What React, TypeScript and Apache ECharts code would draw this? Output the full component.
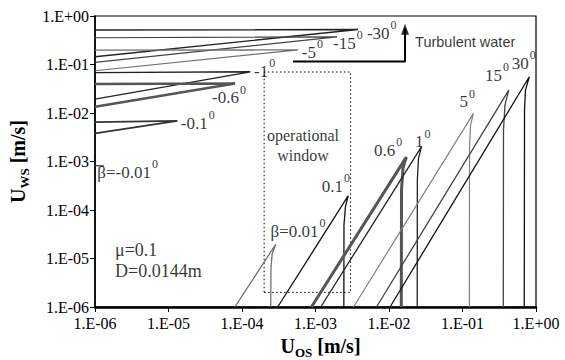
import React, { useEffect, useRef } from "react";
import * as echarts from "echarts";

// Tick labels (decades 1e-6 .. 1e0)
const xTickLabels = ["1.E-06", "1.E-05", "1.E-04", "1.E-03", "1.E-02", "1.E-01", "1.E+00"];
const yTickLabels = ["1.E-06", "1.E-05", "1.E-04", "1.E-03", "1.E-02", "1.E-01", "1.E+00"];

// Positive inclination angles: rising branch, peak, falling branch [U_OS, U_WS]
const betaP001: number[][] = [[8.0e-5, 1e-6], [2.88e-4, 1.97e-5], [2.58e-4, 1.27e-5], [2.48e-4, 6.7e-6], [2.46e-4, 1e-6]];
const betaP01: number[][] = [[3.06e-4, 1e-6], [2.79e-3, 1.97e-4], [2.56e-3, 1.2e-4], [2.44e-3, 4.9e-5], [2.43e-3, 1e-6]];
const betaP06: number[][] = [[8.8e-4, 1e-6], [1.72e-2, 1.23e-3], [1.55e-2, 7.3e-4], [1.48e-2, 2.6e-4], [1.47e-2, 1e-6]];
const betaP1: number[][] = [[1.18e-3, 1e-6], [2.77e-2, 2.03e-3], [2.52e-2, 1.17e-3], [2.43e-2, 4.1e-4], [2.42e-2, 1e-6]];
const betaP5: number[][] = [[3.29e-3, 1e-6], [0.141, 9.8e-3], [0.1285, 5.6e-3], [0.1245, 1.71e-3], [0.124, 1e-6]];
const betaP15: number[][] = [[6.76e-3, 1e-6], [0.426, 0.0297], [0.378, 0.01455], [0.361, 4.43e-3], [0.359, 1e-6]];
const betaP30: number[][] = [[0.01033, 1e-6], [0.811, 0.0559], [0.719, 0.0297], [0.698, 0.01148], [0.692, 1e-6]];

// Negative inclination angles: upper branch, tip, lower branch [U_OS, U_WS]
const betaN30: number[][] = [[1e-6, 0.514], [3.79e-3, 0.526], [1e-6, 0.1445]];
const betaN15: number[][] = [[8.0e-7, 0.356], [1.96e-3, 0.37], [1e-6, 0.1107]];
const betaN5: number[][] = [[1e-6, 0.1987], [5.8e-4, 0.2], [1e-6, 0.0743]];
const betaN1: number[][] = [[1e-6, 0.068], [1.3e-4, 0.0708], [1e-6, 0.01936]];
const betaN06: number[][] = [[1e-6, 0.0395], [8.04e-5, 0.0405], [1e-6, 0.01343]];
const betaN01: number[][] = [[1e-6, 6.49e-3], [1.32e-5, 6.9e-3], [1e-6, 3.79e-3]];
const betaN001: number[][] = [[9.3e-7, 8.28e-4], [1.32e-6, 8.1e-4]];

// Operational window and turbulent-water arrow
const windowBox: number[][] = [[2e-4, 2e-6], [3e-3, 2e-6], [3e-3, 0.07], [2e-4, 0.07], [2e-4, 2e-6]];
const turbulentArrow: number[][] = [[4.94e-4, 0.115], [0.01652, 0.115], [0.01652, 0.56]];
const arrowHead: number[][] = [[0.01652, 0.53]];

const curves = [betaP001, betaP01, betaP06, betaP1, betaP5, betaP15, betaP30,
  betaN30, betaN15, betaN5, betaN1, betaN06, betaN01, betaN001];
const curveColors = ["#666", "#111", "#555", "#222", "#808080", "#444", "#111",
  "#222", "#444", "#707070", "#222", "#555", "#333", "#333"];
const curveWidths = [1.2, 1.3, 3, 1.3, 1.2, 1.3, 1.3,
  1.4, 1.2, 1.2, 1.3, 2.6, 1.8, 1.3];

// Curve labels (text) and anchor points in data coordinates
const angleTexts = ["-30", "-15", "-5", "-1", "-0.6", "-0.1", "β=-0.01", "β=0.01", "0.1", "0.6", "1", "5", "15", "30"];
const angleAnchorX = [5.0e-3, 1.73e-3, 6.5e-4, 1.456e-4, 3.91e-5, 1.466e-5, 1.075e-6, 2.44e-4, 1.213e-3, 6.25e-3, 0.0226, 0.0906, 0.202, 0.468];
const angleAnchorY = [0.446, 0.277, 0.181, 0.0732, 0.0208, 6.19e-3, 6.03e-4, 3.65e-5, 3.1e-4, 1.715e-3, 2.55e-3, 0.017, 0.0605, 0.1057];
const degreeMark = "0";

const noteTexts = ["μ=0.1", "D=0.0144m"];
const noteAnchorX = [1.87e-6, 1.87e-6];
const noteAnchorY = [1.48e-5, 5.46e-6];

const SERIF = "Liberation Serif";
const SANS = "Liberation Sans";
const ANGLE_FONT = 17;
const SUP_FONT = 12;

function measure(text: string, size: number, family: string): number {
  const c = document.createElement("canvas").getContext("2d");
  if (!c) return text.length * size * 0.5;
  c.font = `${size}px "${family}"`;
  return c.measureText(text).width;
}

export default function App() {
  const ref = useRef<HTMLDivElement>(null);

  useEffect(() => {
    if (!ref.current) return;
    const chart = echarts.init(ref.current, undefined, { renderer: "svg" });

    const tickFmt = (labels: string[]) => (v: number) => labels[Math.round(Math.log10(v)) + 6] ?? "";

    const series: any[] = curves.map((c, i) => ({
      type: "line",
      data: c,
      symbol: "none",
      clip: false,
      silent: true,
      lineStyle: { color: curveColors[i], width: curveWidths[i] },
      z: 3,
    }));

    series.push({
      type: "line",
      data: windowBox,
      symbol: "none",
      silent: true,
      lineStyle: { color: "#000", width: 1, type: [1.5, 2.5] },
      z: 2,
    });
    series.push({
      type: "line",
      data: turbulentArrow,
      symbol: "none",
      silent: true,
      lineStyle: { color: "#000", width: 2 },
      z: 4,
    });
    series.push({
      type: "scatter",
      data: arrowHead,
      symbol: "triangle",
      symbolSize: [8, 11],
      silent: true,
      itemStyle: { color: "#000" },
      z: 4,
    });

    const baseText = { color: "#000", textBorderWidth: 0, textShadowBlur: 0 };

    // main angle texts
    series.push({
      type: "scatter",
      symbolSize: 0.1,
      silent: true,
      itemStyle: { color: "#000" },
      z: 5,
      data: angleTexts.map((t, i) => ({
        value: [angleAnchorX[i], angleAnchorY[i]],
        label: {
          show: true,
          position: "right",
          distance: 0,
          formatter: t,
          fontSize: ANGLE_FONT,
          fontFamily: SERIF,
          ...baseText,
        },
      })),
    });
    // superscript degree marks
    series.push({
      type: "scatter",
      symbolSize: 0.1,
      silent: true,
      itemStyle: { color: "#000" },
      z: 5,
      data: angleTexts.map((t, i) => ({
        value: [angleAnchorX[i], angleAnchorY[i]],
        label: {
          show: true,
          position: "right",
          distance: 0,
          offset: [measure(t, ANGLE_FONT, SERIF) + 1, -8],
          formatter: degreeMark,
          fontSize: SUP_FONT,
          fontFamily: SERIF,
          ...baseText,
        },
      })),
    });

    series.push({
      type: "scatter",
      symbolSize: 0.1,
      silent: true,
      itemStyle: { color: "#000" },
      z: 5,
      data: [
        ...noteTexts.map((t, i) => ({
          value: [noteAnchorX[i], noteAnchorY[i]],
          label: {
            show: true,
            position: "right",
            distance: 0,
            formatter: t,
            fontSize: 18,
            fontFamily: SERIF,
            ...baseText,
          },
        })),
        {
          value: [6.76e-4, 2.17e-3],
          label: {
            show: true,
            position: "inside",
            formatter: "operational\nwindow",
            fontSize: 16,
            lineHeight: 20,
            align: "center",
            fontFamily: SERIF,
            ...baseText,
          },
        },
        {
          value: [0.0226, 0.295],
          label: {
            show: true,
            position: "right",
            distance: 0,
            formatter: "Turbulent water",
            fontSize: 14.5,
            fontFamily: SANS,
            ...baseText,
          },
        },
      ],
    });

    const nameRich = {
      a: { fontSize: 20, fontWeight: "bold", fontFamily: SERIF, color: "#000" },
      b: { fontSize: 13, fontWeight: "bold", fontFamily: SERIF, color: "#000", padding: [14, 0, 0, 0] },
    };

    chart.setOption({
      animation: false,
      textStyle: { fontFamily: SERIF, color: "#000" },
      grid: {
        left: 95,
        right: 29,
        top: 16,
        bottom: 53,
        outerBoundsMode: "none",
        containLabel: false,
        show: true,
        borderColor: "#000",
        borderWidth: 1.2,
        backgroundColor: "transparent",
      },
      xAxis: {
        type: "log",
        logBase: 10,
        min: 1e-6,
        max: 1,
        name: "{a|U}{b|OS}{a| [m/s]}",
        nameLocation: "middle",
        nameGap: 25,
        nameTextStyle: { rich: nameRich, padding: [0, 0, 0, 10], color: "#000", fontFamily: SERIF },
        axisLine: { show: true, lineStyle: { color: "#000", width: 2.5 } },
        axisTick: { show: true, length: 5, lineStyle: { color: "#000", width: 1 } },
        axisLabel: { formatter: tickFmt(xTickLabels), fontSize: 16, fontFamily: SERIF, color: "#000", margin: 8 },
        splitLine: { show: false },
        minorTick: { show: false },
      },
      yAxis: {
        type: "log",
        logBase: 10,
        min: 1e-6,
        max: 1,
        name: "{a|U}{b|WS}{a| [m/s]}",
        nameLocation: "middle",
        nameRotate: 90,
        nameGap: 61,
        nameTextStyle: { rich: nameRich, color: "#000", fontFamily: SERIF },
        axisLine: { show: true, lineStyle: { color: "#000", width: 1.6 } },
        axisTick: { show: true, length: 5, lineStyle: { color: "#000", width: 1 } },
        axisLabel: { formatter: tickFmt(yTickLabels), fontSize: 16, fontFamily: SERIF, color: "#000", margin: 6 },
        splitLine: { show: false },
        minorTick: { show: false },
      },
      series,
    });

    return () => chart.dispose();
  }, []);

  return <div ref={ref} style={{ width: 565, height: 360, position: "absolute", left: 0, top: 0 }} />;
}
